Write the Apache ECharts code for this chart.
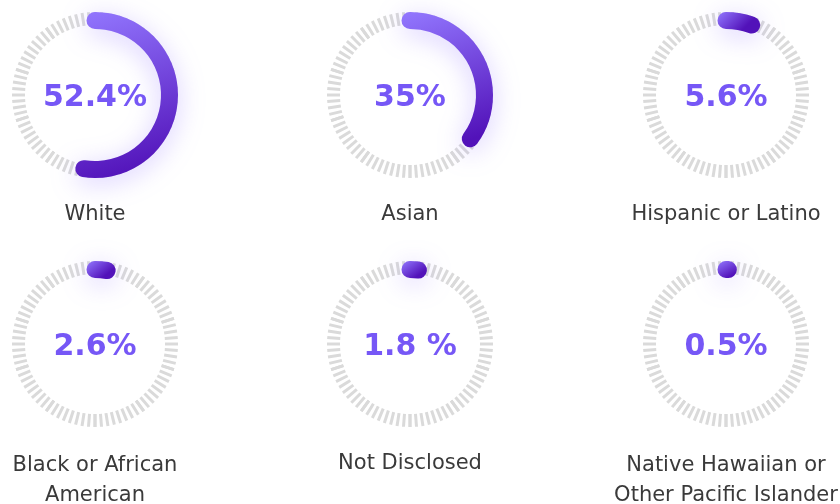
<!DOCTYPE html>
<html>
<head>
<meta charset="utf-8">
<title>Ethnicity breakdown</title>
<script src="https://cdn.jsdelivr.net/npm/echarts@6/dist/echarts.min.js"></script>
<style>
  html, body { margin: 0; padding: 0; background: #fff; }
  #chart { width: 840px; height: 504px; }
</style>
</head>
<body>
<div id="chart"></div>
<script>
// data
var categories = ['White', 'Asian', 'Hispanic or Latino', 'Black or African\nAmerican', 'Not Disclosed', 'Native Hawaiian or\nOther Pacific Islander'];
var values = [52.4, 35, 5.6, 2.6, 1.8, 0.5];
var valueLabels = ['52.4%', '35%', '5.6%', '2.6%', '1.8 %', '0.5%'];

// grid positions of the six rings
var centers = [[95, 95], [410, 95], [726, 95], [95, 344], [410, 344], [726, 344]];

var chart = echarts.init(document.getElementById('chart'));

var series = [];
for (var i = 0; i < values.length; i++) {
    var twoLines = categories[i].indexOf('\n') >= 0;
    series.push({
        type: 'gauge',
        center: centers[i],
        radius: 83,
        startAngle: 90,
        endAngle: -270,
        min: 0,
        max: 100,
        splitNumber: 10,
        pointer: { show: false },
        axisLine: { show: false, lineStyle: { width: 0 } },
        splitLine: { show: false },
        axisLabel: { show: false },
        axisTick: {
            show: true,
            splitNumber: 8,
            distance: 0,
            length: 13,
            lineStyle: { color: '#dadada', width: 3, cap: 'butt' }
        },
        progress: {
            show: true,
            roundCap: true,
            width: 17,
            itemStyle: {
                color: new echarts.graphic.LinearGradient(0, 0, 0.5, 1, [
                    { offset: 0, color: '#9378ff' },
                    { offset: 1, color: '#5212b9' }
                ]),
                shadowBlur: 26,
                shadowColor: 'rgba(125, 90, 255, 0.3)',
                shadowOffsetY: 5
            }
        },
        title: {
            show: true,
            offsetCenter: [0, twoLines ? 137 : 120],
            fontFamily: 'DejaVu Sans',
            fontSize: 21,
            lineHeight: 30,
            color: '#3a3a3a'
        },
        detail: {
            show: true,
            valueAnimation: false,
            offsetCenter: [0, 3],
            fontFamily: 'DejaVu Sans',
            fontWeight: 'bold',
            fontSize: 30,
            color: '#7657f6',
            formatter: (function (s) { return function () { return s; }; })(valueLabels[i])
        },
        animation: false,
        data: [{ value: values[i], name: categories[i] }]
    });
}

chart.setOption({ series: series });
</script>
</body>
</html>
